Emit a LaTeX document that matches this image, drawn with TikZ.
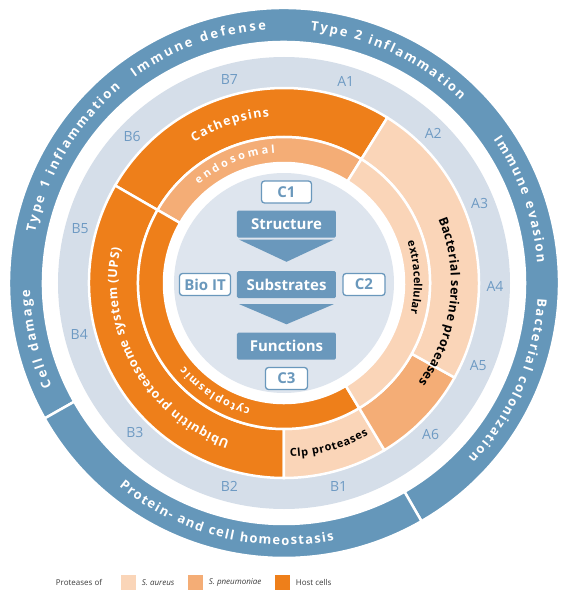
\documentclass[tikz,border=0pt]{standalone}
\usepackage{fontspec}
\setmainfont{Open Sans}
\usetikzlibrary{decorations.text,positioning}

\definecolor{ringblue}{RGB}{101,151,186}
\definecolor{labelring}{RGB}{213,222,233}
\definecolor{discgrey}{RGB}{222,229,238}
\definecolor{hostorange}{RGB}{238,127,26}
\definecolor{pneumo}{RGB}{244,173,118}
\definecolor{aureus}{RGB}{250,213,184}
\definecolor{boxblue}{RGB}{106,152,188}
\definecolor{labelblue}{RGB}{110,154,195}
\definecolor{legendgrey}{RGB}{60,60,60}

\newcommand{\outerfont}{\fontsize{13}{13}\selectfont\bfseries}
\newcommand{\midfont}{\fontsize{12.5}{12.5}\selectfont\bfseries}
\newcommand{\innerfont}{\fontsize{11}{11}\selectfont\bfseries}

\begin{document}
\begin{tikzpicture}[x=1pt,y=1pt]
    \tikzstyle{ringcut} = [draw=white, line width=2.5pt]
    \tikzstyle{arclabel} = [decorate, decoration={text along path, text align={fit to path}, text color=white}]
    \tikzstyle{ringtag} = [text=labelblue, font=\fontsize{14}{14}\selectfont, inner sep=0pt]
    \tikzstyle{stage} = [fill=boxblue, text=white, font=\fontsize{15}{15}\selectfont\bfseries, minimum width=99pt, minimum height=27pt, rounded corners=1.5pt, inner sep=0pt]
    \tikzstyle{tag} = [draw=boxblue, line width=1.3pt, fill=white, text=boxblue, font=\fontsize{15}{15}\selectfont\bfseries, minimum height=22pt, rounded corners=3pt, inner sep=0pt]
    \tikzstyle{legbox} = [minimum size=15pt, inner sep=0pt]
    \tikzstyle{legtext} = [font=\fontsize{8}{8}\selectfont, text=legendgrey, inner sep=0pt]

    \fill[white] (-284,-317) rectangle (283,283);
    \useasboundingbox (-284,-317) rectangle (283,283);

    % outer ring
    \foreach \a/\b in {-60/209.5, 209.5/300}
        \fill[ringblue, ringcut] (\a:275) arc[start angle=\a, end angle=\b, radius=275] -- (\b:241) arc[start angle=\b, end angle=\a, radius=241] -- cycle;

    \fill[labelring, even odd rule] (0,0) circle[radius=226] (0,0) circle[radius=195];

    % protease rings
    \foreach \a/\b/\col in {58/150/hostorange, 150/270/hostorange, 270/301/aureus, 301/331/pneumo, 331/418/aureus}
        \fill[\col, ringcut] (\a:195) arc[start angle=\a, end angle=\b, radius=195] -- (\b:146) arc[start angle=\b, end angle=\a, radius=146] -- cycle;

    \foreach \a/\b/\col in {58/150/pneumo, 150/301/hostorange, 301/418/aureus}
        \fill[\col, ringcut] (\a:146) arc[start angle=\a, end angle=\b, radius=146] -- (\b:120) arc[start angle=\b, end angle=\a, radius=120] -- cycle;

    \fill[discgrey] (0,0) circle[radius=110];

    % ring texts
    \path[arclabel, decoration={text={|\outerfont|Immune defense}}] (126:254) arc[start angle=126, end angle=94, radius=254];
    \path[arclabel, decoration={text={|\outerfont|Type 2 inflammation}}] (84:254) arc[start angle=84, end angle=46, radius=254];
    \path[arclabel, decoration={text={|\outerfont|Type 1 inflammation}}] (168.5:254) arc[start angle=168.5, end angle=130, radius=254];
    \path[arclabel, decoration={text={|\outerfont|Immune evasion}}] (34.5:254) arc[start angle=34.5, end angle=4.5, radius=254];
    \path[arclabel, decoration={text={|\outerfont|Cell damage}}] (204:254) arc[start angle=204, end angle=181.5, radius=254];
    \path[arclabel, decoration={text={|\outerfont|Bacterial colonization}}] (-3.5:254) arc[start angle=-3.5, end angle=-43.5, radius=254];
    \path[arclabel, decoration={text={|\outerfont|Protein- and cell homeostasis}}] (-129:262) arc[start angle=-129, end angle=-79, radius=262];

    \path[arclabel, decoration={text={|\midfont|Cathepsins}}] (122.5:167) arc[start angle=122.5, end angle=95, radius=167];
    \path[arclabel, decoration={text={|\midfont|Ubiquitin proteasome system (UPS)}}] (251:167) arc[start angle=251, end angle=168, radius=167];
    \path[arclabel, decoration={text color=black, text={|\midfont|Bacterial serine proteases}}] (22.5:167) arc[start angle=22.5, end angle=-36.5, radius=167];
    \path[arclabel, decoration={text color=black, text={|\innerfont|Clp proteases}}] (-88:174) arc[start angle=-88, end angle=-61, radius=174];

    \path[arclabel, decoration={text={|\innerfont|endosomal}}] (131:130) arc[start angle=131, end angle=94, radius=130];
    \path[arclabel, decoration={text={|\innerfont|cytoplasmic}}] (255:130) arc[start angle=255, end angle=220, radius=130];
    \path[arclabel, decoration={text color=black, text={|\innerfont|extracellular}}] (18.5:130) arc[start angle=18.5, end angle=-13.5, radius=130];

    % A and B labels
    \foreach \lab/\ang in {A1/73, A2/45, A3/22, A4/-1, A5/-23, A6/-46, B1/-75, B2/-105, B3/-135, B4/-166, B5/165, B6/136, B7/105}
        \node[ringtag] (\lab) at (\ang:211) {\lab};

    % centre
    \node[tag, minimum width=50pt] (c1) at (2.5,91) {C1};
    \node[stage] (structure) at (2.5,59) {Structure};
    \node[stage] (substrates) at (2.5,-1.5) {Substrates};
    \node[tag, minimum width=51pt] (bioit) at (-79,-1.5) {Bio IT};
    \node[tag, minimum width=42pt] (c2) at (80,-1.5) {C2};
    \node[stage] (functions) at (2.5,-63) {Functions};
    \node[tag, minimum width=42pt] (c3) at (2.5,-95.5) {C3};

    \fill[boxblue] ([xshift=2.5pt, yshift=-2pt]structure.south west) -- ([xshift=-2.5pt, yshift=-2pt]structure.south east) -- ([yshift=9pt]substrates.north) -- cycle;
    \fill[boxblue] ([xshift=2.5pt, yshift=-6pt]substrates.south west) -- ([xshift=-2.5pt, yshift=-6pt]substrates.south east) -- ([yshift=8pt]functions.north) -- cycle;

    % legend
    \node[legtext] (proteases) at (-205,-299.5) {Proteases of};
    \node[legbox, fill=aureus] (keyaureus) at (-155,-299.5) {};
    \node[legtext, right=5pt of keyaureus] (txtaureus) {\textit{S. aureus}};
    \node[legbox, fill=pneumo] (keypneumo) at (-88,-299.5) {};
    \node[legtext, right=5pt of keypneumo] (txtpneumo) {\textit{S. pneumoniae}};
    \node[legbox, fill=hostorange] (keyhost) at (-1,-299.5) {};
    \node[legtext, right=5pt of keyhost] (txthost) {Host cells};
\end{tikzpicture}
\end{document}
